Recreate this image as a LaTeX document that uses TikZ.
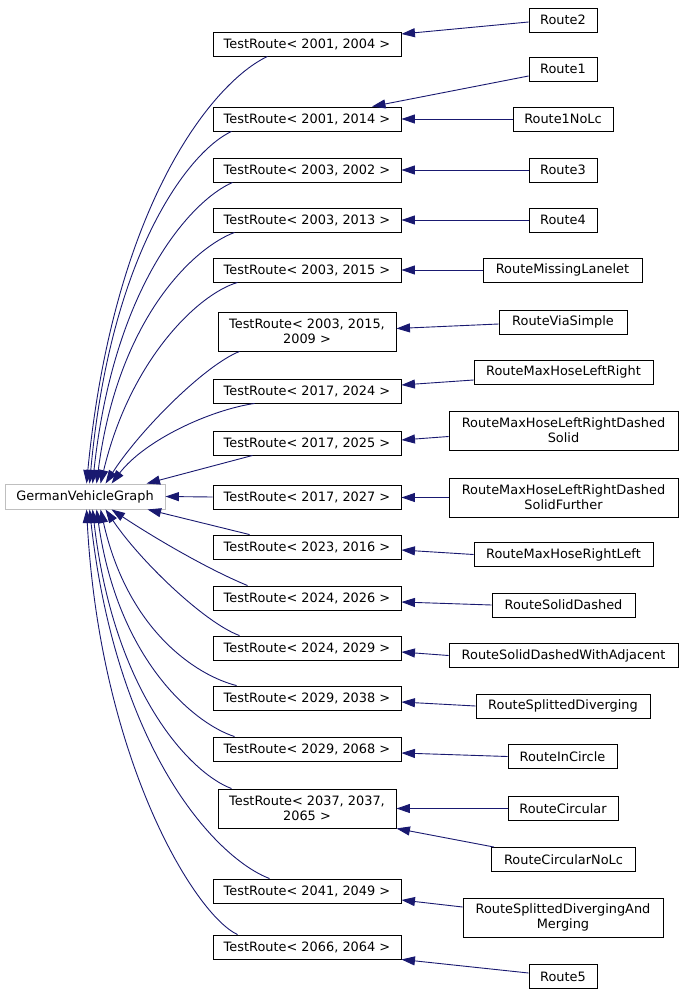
\documentclass[tikz,border=0pt]{standalone}
\usepackage{fontspec}
\setmainfont{DejaVu Sans}
\usetikzlibrary{arrows.meta}
\definecolor{edgeblue}{HTML}{191970}
\definecolor{lgray}{HTML}{BFBFBF}
\begin{document}
\begin{tikzpicture}[x=1pt,y=-1pt,
  box/.style={draw=black,line width=0.9pt,fill=white,minimum height=24pt,inner sep=0pt,
    font=\fontsize{12.9}{15}\selectfont,align=center},
  tall/.style={minimum height=39pt},
  edge/.style={draw=edgeblue,line width=0.9pt,-{Triangle[length=13.5pt,width=9pt]}}]
\useasboundingbox (0,0) rectangle (683,996);
% base
\node[box,draw=lgray,minimum width=160pt,minimum height=25pt] (gvg) at (85,496.5) {GermanVehicleGraph};
% middle column
\node[box,minimum width=188pt] (m1) at (307,44) {TestRoute< 2001, 2004 >};
\node[box,minimum width=188pt] (m2) at (307,119) {TestRoute< 2001, 2014 >};
\node[box,minimum width=188pt] (m3) at (307,170) {TestRoute< 2003, 2002 >};
\node[box,minimum width=188pt] (m4) at (307,220) {TestRoute< 2003, 2013 >};
\node[box,minimum width=188pt] (m5) at (307,270) {TestRoute< 2003, 2015 >};
\node[box,tall,minimum width=178pt] (m6) at (307,331.5) {TestRoute< 2003, 2015,\\2009 >};
\node[box,minimum width=188pt] (m7) at (307,391) {TestRoute< 2017, 2024 >};
\node[box,minimum width=188pt] (m8) at (307,443) {TestRoute< 2017, 2025 >};
\node[box,minimum width=188pt] (m9) at (307,497) {TestRoute< 2017, 2027 >};
\node[box,minimum width=188pt] (m10) at (307,547) {TestRoute< 2023, 2016 >};
\node[box,minimum width=188pt] (m11) at (307,598) {TestRoute< 2024, 2026 >};
\node[box,minimum width=188pt] (m12) at (307,648) {TestRoute< 2024, 2029 >};
\node[box,minimum width=188pt] (m13) at (307,698) {TestRoute< 2029, 2038 >};
\node[box,minimum width=188pt] (m14) at (307,749) {TestRoute< 2029, 2068 >};
\node[box,tall,minimum width=178pt] (m15) at (307,808.5) {TestRoute< 2037, 2037,\\2065 >};
\node[box,minimum width=188pt] (m16) at (307,891) {TestRoute< 2041, 2049 >};
\node[box,minimum width=188pt] (m17) at (307,947) {TestRoute< 2066, 2064 >};
% right column
\node[box,minimum width=68pt] (r2) at (563,20) {Route2};
\node[box,minimum width=68pt] (r1) at (563,69) {Route1};
\node[box,minimum width=100pt] (r1n) at (563,119) {Route1NoLc};
\node[box,minimum width=68pt] (r3) at (563,170) {Route3};
\node[box,minimum width=68pt] (r4) at (563,220) {Route4};
\node[box,minimum width=159pt] (rml) at (562.5,270) {RouteMissingLanelet};
\node[box,minimum width=128pt] (rvs) at (563,322) {RouteViaSimple};
\node[box,minimum width=179pt] (rlr) at (563.5,372) {RouteMaxHoseLeftRight};
\node[box,tall,minimum width=229pt] (rds) at (563.5,430.5) {RouteMaxHoseLeftRightDashed\\Solid};
\node[box,tall,minimum width=229pt] (rdsf) at (563.5,497.5) {RouteMaxHoseLeftRightDashed\\SolidFurther};
\node[box,minimum width=179pt] (rrl) at (563.5,554.5) {RouteMaxHoseRightLeft};
\node[box,minimum width=143pt] (rsd) at (563.5,605) {RouteSolidDashed};
\node[box,minimum width=229pt] (rsda) at (563.5,655.5) {RouteSolidDashedWithAdjacent};
\node[box,minimum width=174pt] (rsdv) at (563,706) {RouteSplittedDiverging};
\node[box,minimum width=109pt] (ric) at (562.5,756.5) {RouteInCircle};
\node[box,minimum width=110pt] (rc) at (563,808.5) {RouteCircular};
\node[box,minimum width=144pt] (rcn) at (563.5,859.5) {RouteCircularNoLc};
\node[box,tall,minimum width=200pt] (rsdm) at (563,917.5) {RouteSplittedDivergingAnd\\Merging};
\node[box,minimum width=68pt] (r5) at (563,976.5) {Route5};
% right -> middle edges
\draw[edge] ([yshift=-2pt]r2.west) -- ([yshift=10pt]m1.east);
\draw[edge] ([yshift=-7pt]r1.west) -- ([xshift=65pt]m2.north);
\draw[edge] (r1n.west) -- (m2.east);
\draw[edge] (r3.west) -- (m3.east);
\draw[edge] (r4.west) -- (m4.east);
\draw[edge] (rml.west) -- (m5.east);
\draw[edge] ([yshift=-2pt]rvs.west) -- ([yshift=3pt]m6.east);
\draw[edge] ([yshift=-8pt]rlr.west) -- ([yshift=6pt]m7.east);
\draw[edge] ([yshift=-6pt]rds.west) -- ([yshift=3pt]m8.east);
\draw[edge] (rdsf.west) -- ([yshift=-0.5pt]m9.east);
\draw[edge] (rrl.west) -- ([yshift=-3pt]m10.east);
\draw[edge] (rsd.west) -- ([yshift=-4pt]m11.east);
\draw[edge] (rsda.west) -- ([yshift=-4pt]m12.east);
\draw[edge] (rsdv.west) -- ([yshift=-4pt]m13.east);
\draw[edge] (ric.west) -- ([yshift=-4pt]m14.east);
\draw[edge] (rc.west) -- (m15.east);
\draw[edge] ([xshift=3pt]rcn.north west) -- (m15.south east);
\draw[edge] ([yshift=10.5pt]rsdm.west) -- ([yshift=-9pt]m16.east);
\draw[edge] ([yshift=3.5pt]r5.west) -- (m17.south east);
% middle -> base edges (upper)
\draw[edge] ([xshift=55pt]m1.south west) .. controls (215.5,80.5) and (114,200) .. ([xshift=82pt]gvg.north west);
\draw[edge] ([xshift=19pt]m2.south west) .. controls (191,150) and (111,249) .. ([xshift=85pt]gvg.north west);
\draw[edge] ([xshift=20pt]m3.south west) .. controls (192,200) and (114,284) .. ([xshift=88pt]gvg.north west);
\draw[edge] ([xshift=22pt]m4.south west) .. controls (195,247) and (118,317) .. ([xshift=92pt]gvg.north west);
\draw[edge] ([xshift=25pt]m5.south west) .. controls (198,294) and (130,360) .. ([xshift=96pt]gvg.north west);
\draw[edge] ([xshift=22pt]m6.south west) .. controls (205,365) and (140,430) .. ([xshift=101pt]gvg.north west);
\draw[edge] ([xshift=42pt]m7.south west) .. controls (210,410) and (145,440) .. ([xshift=107pt]gvg.north west);
\draw[edge] ([xshift=40pt]m8.south west) -- ([xshift=142pt]gvg.north west);
\draw[edge] (m9.west) -- (gvg.east);
% middle -> base edges (lower)
\draw[edge] ([xshift=37pt]m10.north west) -- ([xshift=143pt]gvg.south west);
\draw[edge] ([xshift=35pt]m11.north west) .. controls (205,568) and (150,535) .. ([xshift=107pt]gvg.south west);
\draw[edge] ([xshift=27pt]m12.north west) .. controls (205,623) and (140,561) .. ([xshift=101pt]gvg.south west);
\draw[edge] ([xshift=24pt]m13.north west) .. controls (198,676) and (128,632) .. ([xshift=96pt]gvg.south west);
\draw[edge] ([xshift=22pt]m14.north west) .. controls (195,724) and (118,661) .. ([xshift=92pt]gvg.south west);
\draw[edge] ([xshift=14pt]m15.north west) .. controls (192,774) and (114,695) .. ([xshift=88pt]gvg.south west);
\draw[edge] ([xshift=57pt]m16.north west) .. controls (218,859) and (117,755) .. ([xshift=85pt]gvg.south west);
\draw[edge] ([xshift=25pt]m17.north west) .. controls (195,915) and (100,760) .. ([xshift=82pt]gvg.south west);
\end{tikzpicture}
\end{document}
